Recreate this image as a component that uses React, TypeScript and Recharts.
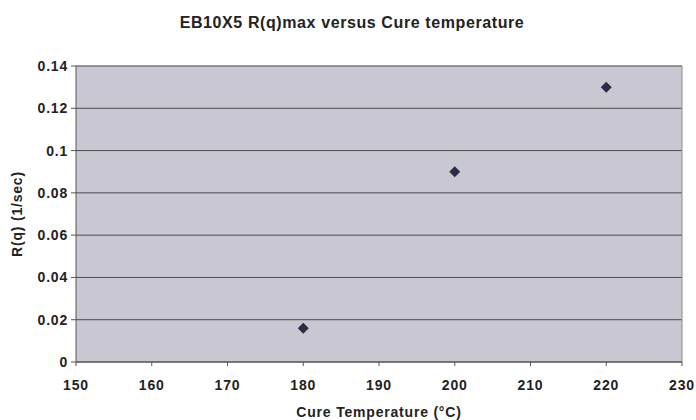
import React from "react";
import {
  ScatterChart,
  Scatter,
  XAxis,
  YAxis,
  CartesianGrid,
  ReferenceLine,
} from "recharts";

const cureTemps = [180, 200, 220];
const rqMax = [0.016, 0.09, 0.13];
const xTicks = [150, 160, 170, 180, 190, 200, 210, 220, 230];
const yTicks = [0, 0.02, 0.04, 0.06, 0.08, 0.1, 0.12, 0.14];

const points = cureTemps.map((t, i) => ({ x: t, y: rqMax[i] }));

const font = "'Liberation Sans', Arial, sans-serif";
const textStyle = { fill: "#222", fontSize: 14, fontWeight: 700, fontFamily: font, letterSpacing: 0.8 };

// small square-ish diamond like the old Excel marker
const Diamond = (props: any) => {
  const { cx, cy } = props;
  const r = 5.5;
  return (
    <polygon
      points={`${cx},${cy - r} ${cx + r},${cy} ${cx},${cy + r} ${cx - r},${cy}`}
      fill="#2b2d45"
    />
  );
};

export default function App() {
  return (
    <div style={{ position: "absolute", left: 0, top: 0, width: 696, height: 420, background: "#fff" }}>
      <div
        style={{
          position: "absolute",
          top: 14,
          width: 704,
          textAlign: "center",
          fontFamily: font,
          fontWeight: 700,
          fontSize: 16,
          letterSpacing: 0.6,
          color: "#222",
        }}
      >
        EB10X5 R(q)max versus Cure temperature
      </div>
      <ScatterChart width={696} height={420} margin={{ top: 66, right: 14, left: 16, bottom: 0 }}>
        <CartesianGrid fill="#c9c8d2" stroke="#4a4a50" vertical={false} />
        <XAxis
          type="number"
          dataKey="x"
          domain={[150, 230]}
          ticks={xTicks}
          tick={textStyle}
          stroke="#555"
          tickSize={4}
          tickMargin={14}
          height={58}
          label={{
            value: "Cure Temperature (°C)",
            position: "insideBottom",
            offset: 3,
            style: textStyle,
          }}
        />
        <YAxis
          type="number"
          dataKey="y"
          domain={[0, 0.14]}
          ticks={yTicks}
          tick={textStyle}
          tickFormatter={(v: number) => String(v)}
          width={60}
          stroke="#555"
          tickSize={5}
          tickMargin={3}
          label={{
            value: "R(q) (1/sec)",
            angle: -90,
            position: "insideLeft",
            offset: 1,
            style: { ...textStyle, textAnchor: "middle" },
          }}
        />
        <ReferenceLine x={230} stroke="#8a8a90" />
        <ReferenceLine y={0.14} stroke="#8a8a90" />
        <Scatter data={points} shape={Diamond} isAnimationActive={false} />
      </ScatterChart>
    </div>
  );
}
